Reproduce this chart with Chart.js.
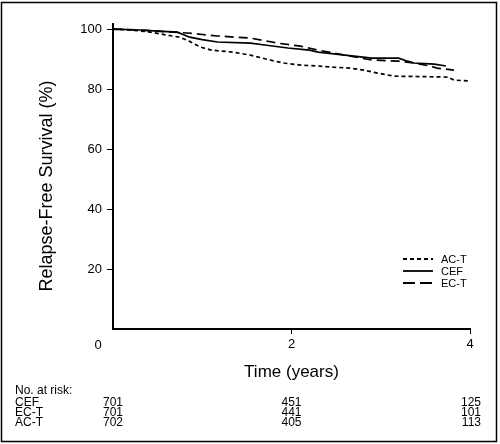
<!DOCTYPE html>
<html lang="en">
<head>
  <meta charset="UTF-8">
  <title>Relapse-Free Survival</title>
  <style>
    html, body {
      margin: 0;
      padding: 0;
      background: #fff;
    }
    #wrap {
      width: 500px;
      height: 444px;
      position: relative;
    }
  </style>
  <script src="https://cdn.jsdelivr.net/npm/chart.js"></script>
</head>
<body>
  <div id="wrap">
    <canvas id="myChart" width="500" height="444"></canvas>
  </div>

  <script>
    // Kaplan-Meier estimates (time in years, survival in %)
    const acTimes  = [0, 0.2, 0.42, 0.6, 0.75, 0.85, 0.98, 1.1, 1.35, 1.54, 1.65, 1.76, 1.91, 2.1, 2.3, 2.47, 2.65, 2.81, 2.97, 3.15, 3.4, 3.75, 3.82, 3.99];
    const acValues = [100, 99.7, 99, 98, 97.3, 96, 94, 93, 92.3, 91.3, 90.5, 89.7, 88.7, 88, 87.7, 87.3, 87, 86.3, 85.3, 84.3, 84.2, 84, 83, 82.7];

    const cefTimes  = [0, 0.3, 0.5, 0.72, 0.86, 1.0, 1.17, 1.54, 1.7, 1.96, 2.2, 2.3, 2.6, 2.9, 3.2, 3.3, 3.37, 3.6, 3.73];
    const cefValues = [100, 99.7, 99.3, 99, 97.3, 96.5, 95.7, 95.3, 94.7, 93.7, 93, 92.3, 91.3, 90.3, 90.3, 89.3, 88.7, 88.3, 87.7];

    const ecTimes  = [0, 0.3, 0.5, 0.83, 1.0, 1.17, 1.54, 1.85, 2.1, 2.3, 2.6, 2.9, 3.2, 3.37, 3.55, 3.63, 3.82];
    const ecValues = [100, 99.7, 99.3, 98.7, 98.2, 97.7, 97, 95.3, 94.3, 93, 91.3, 89.7, 89.3, 88.7, 87.7, 87, 86.3];

    const xTicks = [0, 2, 4];
    const yTicks = [20, 40, 60, 80, 100];

    // number at risk table
    const riskGroups = ['CEF', 'EC-T', 'AC-T'];
    const riskAt0 = [701, 701, 702];
    const riskAt2 = [451, 441, 405];
    const riskAt4 = [125, 101, 113];

    const legendOrder = ['AC-T', 'CEF', 'EC-T'];

    const regular = '"Liberation Sans", Arial, sans-serif';

    function toPoints(times, values) {
      return times.map((t, i) => ({ x: t, y: values[i] }));
    }

    // legend, frame, y title, "0" corner label and risk table
    const extras = {
      id: 'extras',
      afterDraw(chart) {
        const ctx = chart.ctx;
        const xs = chart.scales.x;
        ctx.save();
        ctx.fillStyle = '#000';
        ctx.strokeStyle = '#000';

        // frame
        ctx.lineWidth = 1.5;
        ctx.setLineDash([]);
        ctx.strokeRect(1.5, 2.5, 495, 439);

        // y axis title
        ctx.save();
        ctx.translate(47, 186);
        ctx.rotate(-Math.PI / 2);
        ctx.font = '18px ' + regular;
        ctx.textAlign = 'center';
        ctx.textBaseline = 'middle';
        ctx.fillText('Relapse-Free Survival (%)', 0, 0);
        ctx.restore();

        // "0" label at the origin
        ctx.font = '13px ' + regular;
        ctx.textAlign = 'center';
        ctx.textBaseline = 'middle';
        ctx.fillText('0', 98, 345);

        // legend
        ctx.font = '11px ' + regular;
        ctx.textAlign = 'left';
        legendOrder.forEach((name, i) => {
          const ds = chart.data.datasets.find(d => d.label === name);
          const y = 259 + i * 12;
          ctx.lineWidth = 1.8;
          ctx.setLineDash(name === 'EC-T' ? [12, 5] : (ds.borderDash || []));
          ctx.beginPath();
          ctx.moveTo(403, y);
          ctx.lineTo(433, y);
          ctx.stroke();
          ctx.setLineDash([]);
          ctx.fillText(name, 441, y + 0.5);
        });

        // risk table
        ctx.font = '12px ' + regular;
        ctx.textAlign = 'left';
        ctx.fillText('No. at risk:', 15, 391);
        riskGroups.forEach((g, i) => {
          const y = 403 + i * 10;
          ctx.textAlign = 'left';
          ctx.fillText(g, 15, y);
          ctx.textAlign = 'right';
          ctx.fillText(String(riskAt0[i]), 123, y);
          ctx.textAlign = 'center';
          ctx.fillText(String(riskAt2[i]), xs.getPixelForValue(2), y);
          ctx.textAlign = 'right';
          ctx.fillText(String(riskAt4[i]), 481, y);
        });
        ctx.restore();
      }
    };

    const ctx = document.getElementById('myChart').getContext('2d');
    const myChart = new Chart(ctx, {
      type: 'line',
      data: {
        datasets: [{
          label: 'AC-T',
          data: toPoints(acTimes, acValues),
          borderColor: '#000',
          borderWidth: 1.7,
          borderDash: [4, 3],
          pointRadius: 0,
          fill: false,
        }, {
          label: 'CEF',
          data: toPoints(cefTimes, cefValues),
          borderColor: '#000',
          borderWidth: 1.7,
          pointRadius: 0,
          fill: false,
        }, {
          label: 'EC-T',
          data: toPoints(ecTimes, ecValues),
          borderColor: '#000',
          borderWidth: 1.7,
          borderDash: [9, 5],
          pointRadius: 0,
          fill: false,
        }],
      },
      options: {
        responsive: false,
        animation: false,
        layout: { padding: { top: 24, right: 30, bottom: 55, left: 0 } },
        plugins: {
          legend: { display: false },
          tooltip: { enabled: false },
        },
        scales: {
          x: {
            type: 'linear',
            min: 0,
            max: 4,
            afterBuildTicks: (s) => { s.ticks = xTicks.filter(v => v > 0).map(v => ({ value: v })); },
            afterFit: (s) => { s.height = 60; },
            grid: { display: true, drawOnChartArea: false, drawTicks: true, tickLength: 5, color: '#000', lineWidth: 1 },
            border: { display: true, color: '#000', width: 2 },
            ticks: { color: '#000', padding: 3, maxRotation: 0, font: { size: 13, family: regular } },
            title: {
              display: true,
              text: 'Time (years)',
              color: '#000',
              font: { size: 17, family: regular },
              padding: { top: 0, bottom: 6 },
            },
          },
          y: {
            min: 0,
            max: 101.7,
            afterBuildTicks: (s) => { s.ticks = yTicks.map(v => ({ value: v })); },
            afterFit: (s) => { s.width = 113; },
            grid: { display: true, drawOnChartArea: false, drawTicks: true, tickLength: 6, color: '#000', lineWidth: 1 },
            border: { display: true, color: '#000', width: 2 },
            ticks: { color: '#000', padding: 5, font: { size: 13, family: regular } },
            title: { display: false },
          },
        },
      },
      plugins: [extras],
    });
  </script>
</body>
</html>
